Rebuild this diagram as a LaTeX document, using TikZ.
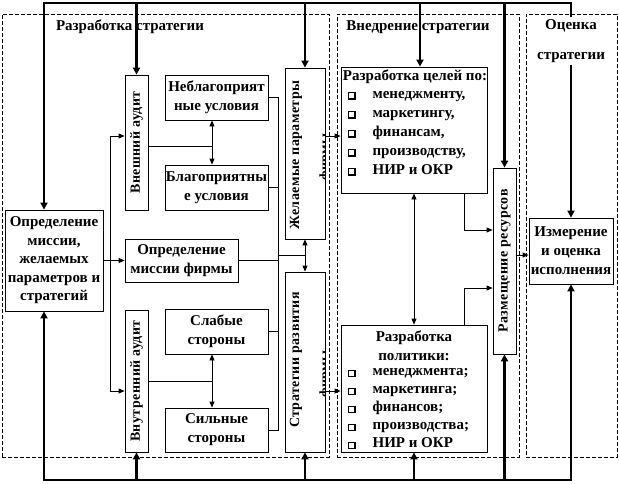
\documentclass[tikz,border=0pt]{standalone}
\usepackage{fontspec}
\setmainfont{Liberation Serif}
\newfontfamily\vfont[LetterSpace=3]{Liberation Serif}
\usetikzlibrary{arrows.meta}
\newcommand\sqb{{\setlength\fboxsep{0pt}\setlength\fboxrule{1.2pt}\fbox{\rule{0pt}{5pt}\hspace{5pt}}}}
\begin{document}
\begin{tikzpicture}[x=1pt,y=-1pt,
 bx/.style={draw, line width=0.8pt, inner sep=0pt, align=center, font=\fontsize{15}{19}\selectfont\bfseries},
 txt/.style={inner sep=0pt, align=center, font=\fontsize{15}{19}\selectfont\bfseries},
 vtxt/.style={inner sep=0pt, rotate=90, font=\fontsize{14}{16}\selectfont\vfont\bfseries},
 ln/.style={line width=0.8pt},
 arr/.style={line width=0.8pt, -{Triangle[length=6pt,width=5pt]}},
 dbl/.style={line width=0.8pt, {Triangle[length=6pt,width=5pt]}-{Triangle[length=6pt,width=5pt]}},
 bus/.style={line width=2.5pt, -{Triangle[length=7pt,width=7pt]}},
 busd/.style={line width=2.5pt, {Triangle[length=7pt,width=7pt]}-{Triangle[length=7pt,width=7pt]}},
 region/.style={draw, line width=0.6pt, dash pattern=on 4pt off 2pt, inner sep=0pt},
]
\useasboundingbox (0,0) rectangle (619,483);
% regions
\node[region, minimum width=327pt, minimum height=443pt] (R1) at (165.5,235.5) {};
\node[region, minimum width=182pt, minimum height=443pt] (R2) at (428,235.5) {};
\node[region, minimum width=91pt, minimum height=443pt] (R3) at (571.5,235.5) {};
\node[txt] (t1) at (130,27) {Разработка стратегии};
\node[txt] (t2) at (418,27) {Внедрение стратегии};
% boxes
\node[bx, minimum width=98pt, minimum height=101pt, font=\fontsize{15}{18.5}\selectfont\bfseries] (mission) at (54,260.5) {Определение\\миссии,\\желаемых\\параметров и\\стратегий};
\node[bx, minimum width=23pt, minimum height=135pt] (ext) at (136.5,142.5) {};
\node[vtxt] (extT) at (ext.center) {Внешний аудит};
\node[bx, minimum width=103pt, minimum height=45pt] (neg) at (216.5,97.5) {Неблагоприят\\ные условия};
\node[bx, minimum width=103pt, minimum height=45pt] (pos) at (216.5,187.5) {Благоприятны\\е условия};
\node[bx, minimum width=113pt, minimum height=43pt] (mf) at (181.5,260.5) {Определение\\миссии фирмы};
\node[bx, minimum width=23pt, minimum height=142pt] (int) at (136.5,381) {};
\node[vtxt] (intT) at (int.center) {Внутренний аудит};
\node[bx, minimum width=103pt, minimum height=45pt] (weak) at (216.5,331.5) {Слабые\\стороны};
\node[bx, minimum width=103pt, minimum height=44pt] (strong) at (216.5,430) {Сильные\\стороны};
\node[bx, minimum width=40pt, minimum height=171pt] (des) at (305,153.5) {};
\begin{scope}
\clip (des.south west) rectangle (des.north east);
\node[vtxt] (desT) at (296,155) {Желаемые параметры};
\node[vtxt, anchor=base] (desT2) at (329,157) {фирмы};
\end{scope}
\node[bx, minimum width=40pt, minimum height=180pt] (strat) at (305,362) {};
\begin{scope}
\clip (strat.south west) rectangle (strat.north east);
\node[vtxt] (stratT) at (296,360) {Стратегии развития};
\node[vtxt, anchor=base] (stratT2) at (329,374) {фирмы};
\end{scope}
\node[bx, minimum width=146pt, minimum height=126pt] (goals) at (414,130) {};
\node[txt] (goalsT) at (415,77) {Разработка целей по:};
\node[txt, align=left, anchor=west] (goalsL) at (348,133.5) {\sqb\hspace{17pt}менеджменту,\\\sqb\hspace{17pt}маркетингу,\\\sqb\hspace{17pt}финансам,\\\sqb\hspace{17pt}производству,\\\sqb\hspace{17pt}НИР и ОКР};
\node[bx, minimum width=146pt, minimum height=127pt] (pol) at (414,388.5) {};
\node[txt] (polT) at (414,345.5) {Разработка\\политики:};
\node[txt, align=left, anchor=west, font=\fontsize{15}{18}\selectfont\bfseries] (polL) at (348,409) {\sqb\hspace{17pt}менеджмента;\\\sqb\hspace{17pt}маркетинга;\\\sqb\hspace{17pt}финансов;\\\sqb\hspace{17pt}производства;\\\sqb\hspace{17pt}НИР и ОКР};
\node[bx, minimum width=23pt, minimum height=186pt] (res) at (504.5,261) {};
\node[vtxt] (resT) at (res.center) {Размещение ресурсов};
\node[bx, minimum width=84pt, minimum height=66pt] (meas) at (571,251) {Измерение\\и оценка\\исполнения};
% helper coordinates
\coordinate (vl) at (110,0);
\coordinate (vr) at (278,0);
\coordinate (cxA) at (212,0);
\coordinate (tb) at (0,3);
\coordinate (bb) at (0,480);
\coordinate (ew) at ([yshift=6.5pt]ext.west);
\coordinate (iw) at ([yshift=-10pt]int.west);
\coordinate (ee) at ([yshift=-3.5pt]ext.east);
\coordinate (j2) at (305,255);
\coordinate (de) at ([yshift=17.5pt]des.east);
\coordinate (se) at ([yshift=-29pt]strat.east);
\coordinate (gs) at ([xshift=50pt]goals.south);
\coordinate (pn) at ([xshift=50pt]pol.north);
\coordinate (rw1) at ([yshift=31pt]res.west);
\coordinate (rw2) at ([yshift=-27pt]res.west);
\coordinate (re) at ([yshift=6pt]res.east);
\coordinate (gn) at ([xshift=6pt]goals.north);
\coordinate (mn) at ([xshift=-10pt]mission.north);
\coordinate (ms) at ([xshift=-10pt]mission.south);
% thin connectors
\draw[dbl] (ew) -| (iw -| vl) -- (iw);
\draw[arr] (mission.east) -- (mf.west);
\draw[ln] (ee) -- (ee -| cxA);
\draw[dbl] (neg.south -| cxA) -- (pos.north -| cxA);
\draw[ln] (int.east) -- (int.east -| cxA);
\draw[dbl] (weak.south -| cxA) -- (strong.north -| cxA);
\draw[ln] (neg.east) -| (strong.east -| vr) -- (strong.east);
\draw[ln] (pos.east) -- (pos.east -| vr);
\draw[ln] (weak.east) -- (weak.east -| vr);
\draw[ln] (mf.east) -- (mf.east -| vr);
\draw[ln] (j2 -| vr) -- (j2);
\draw[dbl] (des.south) -- (strat.north);
\draw[arr] (de) -- (de -| goals.west);
\draw[arr] (se) -- (se -| pol.west);
\draw[dbl] (goals.south) -- (pol.north);
\draw[arr] (gs) |- (rw1);
\draw[arr] (pn) |- (rw2);
\draw[arr] (re) -- (re -| meas.west);
% buses
\draw[busd] (mn) |- (tb -| meas.north) -- (meas.north);
\draw[bus] (tb -| ext.north) -- (ext.north);
\draw[bus] (tb -| des.north) -- (des.north);
\draw[bus] (tb -| gn) -- (gn);
\draw[bus] (tb -| res.north) -- (res.north);
\draw[busd] (ms) |- (bb -| meas.south) -- (meas.south);
\draw[bus] (bb -| int.south) -- (int.south);
\draw[bus] (bb -| strat.south) -- (strat.south);
\draw[bus] (bb -| pol.south) -- (pol.south);
\draw[bus] (bb -| res.south) -- (res.south);
\node[txt, fill=white, inner sep=2pt, font=\fontsize{15}{30}\selectfont\bfseries] (t3) at (571,41) {Оценка\\стратегии};
\end{tikzpicture}
\end{document}
